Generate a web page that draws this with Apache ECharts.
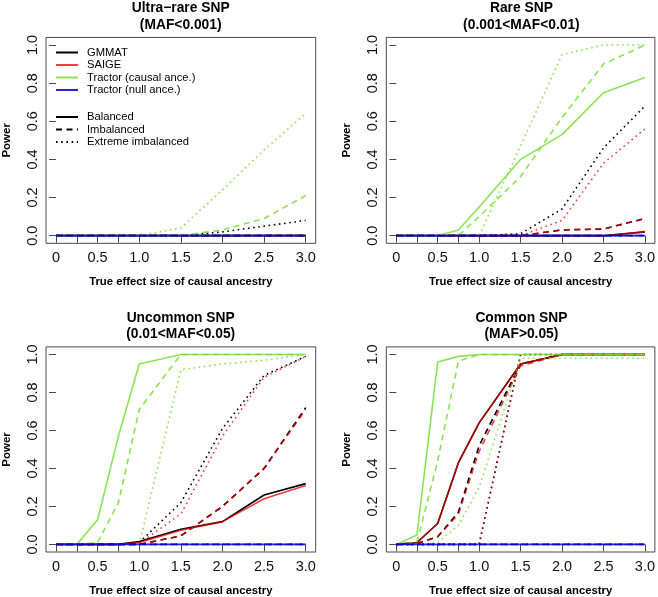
<!DOCTYPE html>
<html><head><meta charset="utf-8">
<script src="https://cdn.jsdelivr.net/npm/echarts@6/dist/echarts.min.js"></script>
<style>html,body{margin:0;padding:0;background:#fff}#c{width:658px;height:597px}</style>
</head><body><div id="c"></div>
<script>
// ---------------- data ----------------
const effectSizes = [0, 0.25, 0.5, 0.75, 1.0, 1.5, 2.0, 2.5, 3.0];
const xTickValues = [0, 0.25, 0.5, 0.75, 1.0, 1.5, 2.0, 2.5, 3.0];
const xLabelValues = [0, 0.5, 1.0, 1.5, 2.0, 2.5, 3.0];
const yTickValues = [0, 0.2, 0.4, 0.6, 0.8, 1.0];
const methods = ['GMMAT', 'SAIGE', 'Tractor (causal ance.)', 'Tractor (null ance.)'];
const designs = ['Balanced', 'Imbalanced', 'Extreme imbalanced'];
const titleLine1 = ['Ultra\u2212rare SNP', 'Rare SNP', 'Uncommon SNP', 'Common SNP'];
const titleLine2 = ['(MAF<0.001)', '(0.001<MAF<0.01)', '(0.01<MAF<0.05)', '(MAF>0.05)'];
const xAxisTitle = 'True effect size of causal ancestry';
const yAxisTitle = 'Power';

// each array: rows = Balanced, Imbalanced, Extreme imbalanced
const ultraGMMAT   = [[0,0,0,0,0,0,0,0,0],[0,0,0,0,0,0,0,0,0],[0,0,0,0,0,0,0.02,0.05,0.08]];
const ultraSAIGE   = [[0,0,0,0,0,0,0,0,0],[0,0,0,0,0,0,0,0,0],[0,0,0,0,0,0,0,0,0]];
const ultraCausal  = [[0,0,0,0,0,0,0,0,0],[0,0,0,0,0,0,0.03,0.09,0.21],[0,0,0,0,0,0.04,0.24,0.45,0.64]];
const ultraNull    = [[0,0,0,0,0,0,0,0,0],[0,0,0,0,0,0,0,0,0],[0,0,0,0,0,0,0,0,0]];

const rareGMMAT    = [[0,0,0,0,0,0,0,0,0.02],[0,0,0,0,0,0,0.03,0.035,0.09],[0,0,0,0,0,0.01,0.14,0.46,0.68]];
const rareSAIGE    = [[0,0,0,0,0,0,0,0,0.02],[0,0,0,0,0,0,0.03,0.035,0.09],[0,0,0,0,0,0,0.08,0.38,0.56]];
const rareCausal   = [[0,0,0,0.03,0.15,0.40,0.53,0.75,0.83],[0,0,0,0,0.10,0.31,0.62,0.90,1.0],[0,0,0,0,0,0.47,0.95,1.0,1.0]];
const rareNull     = [[0,0,0,0,0,0,0,0,0],[0,0,0,0,0,0,0,0,0],[0,0,0,0,0,0,0,0,0]];

const uncommonGMMAT  = [[0,0,0,0,0.015,0.08,0.12,0.26,0.32],[0,0,0,0,0,0.045,0.20,0.40,0.72],[0,0,0,0,0.01,0.22,0.61,0.89,0.99]];
const uncommonSAIGE  = [[0,0,0,0,0.01,0.075,0.12,0.24,0.31],[0,0,0,0,0,0.045,0.20,0.40,0.71],[0,0,0,0,0.005,0.16,0.57,0.88,0.99]];
const uncommonCausal = [[0,0,0.13,0.57,0.95,1.0,1.0,1.0,1.0],[0,0,0.01,0.22,0.71,1.0,1.0,1.0,1.0],[0,0,0,0,0,0.92,0.95,0.97,1.0]];
const uncommonNull   = [[0,0,0,0,0,0,0,0,0],[0,0,0,0,0,0,0,0,0],[0,0,0,0,0,0,0,0,0]];

const commonGMMAT  = [[0,0.01,0.11,0.43,0.64,0.95,1.0,1.0,1.0],[0,0.005,0.04,0.17,0.52,0.95,1.0,1.0,1.0],[0,0,0,0,0,1.0,1.0,1.0,1.0]];
const commonSAIGE  = [[0,0.01,0.11,0.43,0.64,0.95,1.0,1.0,1.0],[0,0.005,0.04,0.16,0.49,0.94,1.0,1.0,1.0],[0,0,0,0,0,1.0,1.0,1.0,1.0]];
const commonCausal = [[0,0.05,0.96,0.99,1.0,1.0,1.0,1.0,1.0],[0,0.01,0.44,0.965,1.0,1.0,1.0,1.0,1.0],[0,0,0.01,0.10,0.30,0.98,0.98,0.98,0.98]];
const commonNull   = [[0,0,0,0,0,0,0,0,0],[0,0,0,0,0,0,0,0,0],[0,0,0,0,0,0,0,0,0]];

const panelData = [
  [ultraGMMAT, ultraSAIGE, ultraCausal, ultraNull],
  [rareGMMAT, rareSAIGE, rareCausal, rareNull],
  [uncommonGMMAT, uncommonSAIGE, uncommonCausal, uncommonNull],
  [commonGMMAT, commonSAIGE, commonCausal, commonNull]
];

// ---------------- style / layout ----------------
const FONT = '"Liberation Sans", Arial, Helvetica, sans-serif';
const methodColors = ['#000000', 'rgba(225,0,0,0.75)', 'rgba(110,220,40,0.8)', 'rgba(0,0,205,0.85)'];
const dashTypes = ['solid', [6, 4.5], [1.6, 3.6]];
const LW = 1.6;
const boxes = [
  {left: 45.7, top: 37.4, width: 270, height: 205.9},
  {left: 386.3, top: 37.4, width: 270.2, height: 205.9},
  {left: 45.7, top: 346.9, width: 270, height: 206.3},
  {left: 386.3, top: 346.9, width: 270.2, height: 206.3}
];
const axisColor = '#4a4a4a';

const grid = boxes.map(b => ({left: b.left, top: b.top, width: b.width, height: b.height,
  show: true, borderColor: axisColor, borderWidth: 1, backgroundColor: 'transparent'}));

const xAxis = boxes.map((b, i) => ({
  gridIndex: i, type: 'value', min: -0.12, max: 3.12,
  axisLine: {show: false},
  splitLine: {show: false},
  axisTick: {show: true, inside: false, length: 7, customValues: xTickValues, lineStyle: {color: axisColor, width: 1}},
  axisLabel: {show: true, margin: 7, customValues: xLabelValues, fontSize: 14.5, color: '#111', fontFamily: FONT,
    formatter: v => (v === 0 ? '0' : v.toFixed(1))},
  name: xAxisTitle, nameLocation: 'middle', nameGap: 33,
  nameTextStyle: {fontSize: 11.3, fontWeight: 'bold', color: '#000', fontFamily: FONT}
}));

const yAxis = boxes.map((b, i) => ({
  gridIndex: i, type: 'value', min: -0.04, max: 1.04,
  axisLine: {show: false},
  splitLine: {show: false},
  axisTick: {show: true, inside: false, length: 7, customValues: yTickValues, lineStyle: {color: axisColor, width: 1}},
  axisLabel: {show: true, margin: 6, rotate: 90, customValues: yTickValues, fontSize: 14.5, color: '#111', fontFamily: FONT,
    formatter: v => v.toFixed(1)},
  name: yAxisTitle, nameLocation: 'middle', nameGap: 33, nameRotate: 90,
  nameTextStyle: {fontSize: 11.5, fontWeight: 'bold', color: '#000', fontFamily: FONT}
}));

const series = [];
panelData.forEach((panel, p) => {
  panel.forEach((rows, m) => {
    rows.forEach((vals, d) => {
      series.push({
        type: 'line', name: 'p' + p + ' ' + methods[m] + ' ' + designs[d],
        xAxisIndex: p, yAxisIndex: p, symbol: 'none', silent: true,
        data: effectSizes.map((x, k) => [x, vals[k]]),
        lineStyle: {color: methodColors[m], width: LW, type: dashTypes[d]},
        itemStyle: {color: methodColors[m]}
      });
    });
  });
});
// legend-only series
methods.forEach((m, i) => series.push({type: 'line', name: m, xAxisIndex: 0, yAxisIndex: 0, data: [], symbol: 'none',
  lineStyle: {color: methodColors[i], width: LW, type: 'solid'}, itemStyle: {color: methodColors[i], opacity: 0}}));
designs.forEach((d, i) => series.push({type: 'line', name: d, xAxisIndex: 0, yAxisIndex: 0, data: [], symbol: 'none',
  lineStyle: {color: '#000', width: LW, type: dashTypes[i]}, itemStyle: {color: '#000', opacity: 0}}));

const legendCommon = {orient: 'vertical', itemWidth: 22, itemHeight: 12, itemGap: 1.5, selectedMode: false, padding: 0,
  itemStyle: {opacity: 0},
  textStyle: {fontSize: 11.2, color: '#000', fontFamily: FONT, padding: [0, 0, 0, 4]}};
const legend = [
  Object.assign({}, legendCommon, {data: methods, left: 55, top: 47}),
  Object.assign({}, legendCommon, {data: designs, left: 55, top: 111.5})
];

const graphic = [];
boxes.forEach((b, i) => {
  const cx = b.left + b.width / 2;
  const y1 = b.top - 29;
  graphic.push({type: 'text', x: cx, y: y1, silent: true,
    style: {text: titleLine1[i], fill: '#000', font: 'bold 13.8px ' + FONT, textAlign: 'center', textVerticalAlign: 'middle'}});
  graphic.push({type: 'text', x: cx, y: y1 + 16.5, silent: true,
    style: {text: titleLine2[i], fill: '#000', font: 'bold 13.8px ' + FONT, textAlign: 'center', textVerticalAlign: 'middle'}});
});

const chart = echarts.init(document.getElementById('c'), null, {renderer: 'canvas'});
chart.setOption({
  backgroundColor: '#ffffff',
  animation: false,
  grid, xAxis, yAxis, series, legend, graphic
});
</script>
</body></html>
